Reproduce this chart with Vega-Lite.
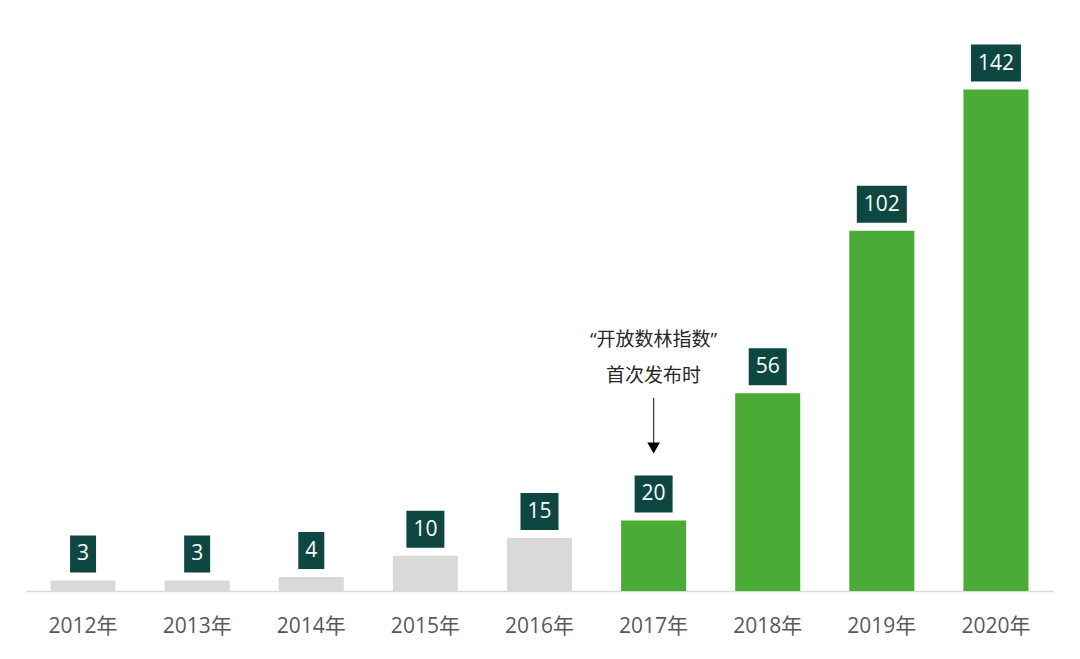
{
  "$schema": "https://vega.github.io/schema/vega-lite/v6.json",
  "width": 1027,
  "height": 565,
  "autosize": {"type": "none"},
  "padding": {"left": 26, "top": 26, "right": 27, "bottom": 68},
  "background": "white",
  "config": {
    "view": {"stroke": null},
    "font": "'Open Sans', 'Noto Sans CJK SC', sans-serif"
  },
  "datasets": {
    "bars": [
      {"year": "2012年", "value": 3, "group": "before"},
      {"year": "2013年", "value": 3, "group": "before"},
      {"year": "2014年", "value": 4, "group": "before"},
      {"year": "2015年", "value": 10, "group": "before"},
      {"year": "2016年", "value": 15, "group": "before"},
      {"year": "2017年", "value": 20, "group": "after"},
      {"year": "2018年", "value": 56, "group": "after"},
      {"year": "2019年", "value": 102, "group": "after"},
      {"year": "2020年", "value": 142, "group": "after"}
    ],
    "note": [
      {"year": "2017年", "line": "“开放数林指数”", "level": 71},
      {"year": "2017年", "line": "首次发布时", "level": 61}
    ],
    "arrow": [
      {"year": "2017年", "start": 54.7, "end": 41.5, "tip": 40.5}
    ]
  },
  "layer": [
    {
      "data": {"name": "bars"},
      "mark": {"type": "bar"},
      "encoding": {
        "x": {
          "field": "year", "type": "nominal", "sort": null,
          "scale": {"paddingInner": 0.43, "paddingOuter": 0.215},
          "axis": {
            "title": null, "ticks": false, "labelAngle": 0,
            "labelFontSize": 21, "labelColor": "#595959", "labelPadding": 24,
            "domainColor": "#d9d9d9", "domainWidth": 1.5
          }
        },
        "y": {
          "field": "value", "type": "quantitative",
          "scale": {"domain": [0, 160], "nice": false},
          "axis": null
        },
        "color": {
          "field": "group", "type": "nominal",
          "scale": {"domain": ["before", "after"], "range": ["#d9d9d9", "#4aab37"]},
          "legend": null
        }
      }
    },
    {
      "data": {"name": "bars"},
      "mark": {"type": "bar", "color": "#0e4742", "yOffset": -8, "y2Offset": -45},
      "encoding": {
        "x": {"field": "year", "type": "nominal", "sort": null},
        "y": {"field": "value", "type": "quantitative"},
        "y2": {"field": "value"},
        "size": {
          "field": "value", "type": "quantitative",
          "scale": {"type": "threshold", "domain": [10, 100], "range": [26, 38, 50]},
          "legend": null
        }
      }
    },
    {
      "data": {"name": "bars"},
      "mark": {"type": "text", "color": "white", "fontSize": 21, "dy": -26, "baseline": "middle", "align": "center"},
      "encoding": {
        "x": {"field": "year", "type": "nominal", "sort": null},
        "y": {"field": "value", "type": "quantitative"},
        "text": {"field": "value", "type": "quantitative"}
      }
    },
    {
      "data": {"name": "note"},
      "mark": {"type": "text", "color": "#262626", "fontSize": 19, "baseline": "middle", "align": "center"},
      "encoding": {
        "x": {"field": "year", "type": "nominal", "sort": null},
        "y": {"field": "level", "type": "quantitative"},
        "text": {"field": "line", "type": "nominal"}
      }
    },
    {
      "data": {"name": "arrow"},
      "mark": {"type": "rule", "color": "#404040", "strokeWidth": 1.3},
      "encoding": {
        "x": {"field": "year", "type": "nominal", "sort": null},
        "y": {"field": "start", "type": "quantitative"},
        "y2": {"field": "end"}
      }
    },
    {
      "data": {"name": "arrow"},
      "mark": {"type": "point", "shape": "triangle-down", "filled": true, "color": "#000000", "size": 160, "opacity": 1},
      "encoding": {
        "x": {"field": "year", "type": "nominal", "sort": null},
        "y": {"field": "tip", "type": "quantitative"}
      }
    }
  ]
}
